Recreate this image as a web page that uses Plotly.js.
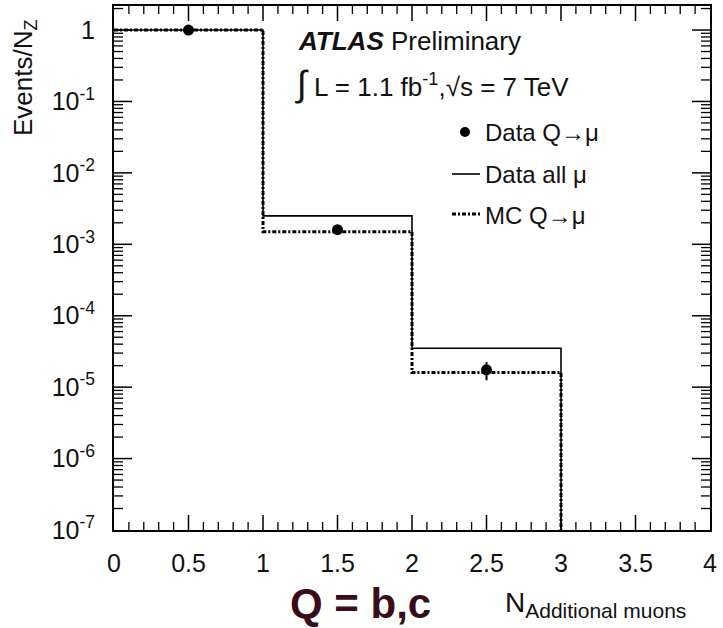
<!DOCTYPE html>
<html>
<head>
<meta charset="utf-8">
<script src="https://cdn.plot.ly/plotly-3.0.1.min.js"></script>
<style>html,body{margin:0;padding:0;background:#fff;}</style>
</head>
<body>
<div id="chart" style="width:723px;height:628px;"></div>
<script>
// ---- data ----
var binEdges = [0, 1, 2, 3, 4];
var binCenters = [0.5, 1.5, 2.5];
var dataQmu = [1.0, 1.6e-3, 1.75e-5];
var dataQmuErr = [0.01, 0.12e-3, 0.5e-5];
var dataAllMu = [1.0, 2.5e-3, 3.5e-5, 0];
var mcQmu = [1.0, 1.5e-3, 1.6e-5, 0];
var yTickVals = [1e-7, 1e-6, 1e-5, 1e-4, 1e-3, 1e-2, 1e-1, 1];
var yTickText = ["10<sup>-7</sup>", "10<sup>-6</sup>", "10<sup>-5</sup>", "10<sup>-4</sup>",
                 "10<sup>-3</sup>", "10<sup>-2</sup>", "10<sup>-1</sup>", "1"];
var xTickVals = [0, 0.5, 1, 1.5, 2, 2.5, 3, 3.5, 4];
var xTickText = ["0", "0.5", "1", "1.5", "2", "2.5", "3", "3.5", "4"];

var X_RANGE = [0, 4];
var Y_LOG_RANGE = [-7, Math.log10(2.17)];

// minor tick positions (axis decoration)
var xMinor = [];
for (var i = 1; i < 40; i++) { if (i % 5 !== 0) xMinor.push(i / 10); }
var yMinor = [];
for (var d = -7; d <= 0; d++) { for (var k = 2; k <= 9; k++) { var v = k * Math.pow(10, d); if (Math.log10(v) < Y_LOG_RANGE[1]) yMinor.push(v); } }

var FLOOR = 1e-12; // empty bins are drawn below the visible log range
function stepY(vals) {
  var v = vals.map(function (d) { return d > 0 ? d : FLOOR; });
  return v.concat([v[v.length - 1]]);
}

var FONT = "Liberation Sans, Arial, Helvetica, sans-serif";

var traces = [
  {
    x: binEdges, y: stepY(dataAllMu), type: "scatter", mode: "lines",
    line: {shape: "hv", color: "#000", width: 1.6}, hoverinfo: "skip", showlegend: false
  },
  {
    x: binEdges, y: stepY(mcQmu), type: "scatter", mode: "lines",
    line: {shape: "hv", color: "#000", width: 3, dash: "4px,2px,2px,2px"}, hoverinfo: "skip", showlegend: false
  },
  {
    x: binCenters, y: dataQmu, type: "scatter", mode: "markers",
    marker: {color: "#000", size: 11},
    error_y: {type: "data", array: dataQmuErr, color: "#000", thickness: 2, width: 0},
    showlegend: false
  }
];

var L = 114, R = 710, T = 6, B = 530;
var PW = R - L, PH = B - T;
function px(x) { return (x - L) / PW; }
function py(y) { return (B - y) / PH; }

var txt = "#111";
var annotations = [
  {text: "Events/N<sub>Z</sub>", x: px(24), y: py(78), xref: "paper", yref: "paper",
   textangle: -90, showarrow: false, xanchor: "center", yanchor: "middle",
   font: {family: FONT, size: 26, color: txt}},
  {text: "<b>Q = b,c</b>", x: px(360), y: py(603), xref: "paper", yref: "paper",
   showarrow: false, xanchor: "center", yanchor: "middle",
   font: {family: FONT, size: 42, color: "#3a0c18"}},
  {text: "N<sub><span style='font-size:21px'>Additional muons</span></sub>", x: px(503), y: py(604), xref: "paper", yref: "paper",
   showarrow: false, xanchor: "left", yanchor: "middle",
   font: {family: FONT, size: 28, color: txt}},
  {text: "<b><i>ATLAS</i></b> Preliminary", x: px(296), y: py(41), xref: "paper", yref: "paper",
   showarrow: false, xanchor: "left", yanchor: "middle",
   font: {family: FONT, size: 26, color: txt}},
  {text: "<span style='font-size:36px'>∫</span> L = 1.1 fb<sup>-1</sup>,√s = 7 TeV", x: px(293), y: py(84), xref: "paper", yref: "paper",
   showarrow: false, xanchor: "left", yanchor: "middle",
   font: {family: FONT, size: 26, color: txt}},
  {text: "Data Q→μ", x: px(483), y: py(132), xref: "paper", yref: "paper",
   showarrow: false, xanchor: "left", yanchor: "middle",
   font: {family: FONT, size: 24, color: txt}},
  {text: "Data all μ", x: px(483), y: py(175), xref: "paper", yref: "paper",
   showarrow: false, xanchor: "left", yanchor: "middle",
   font: {family: FONT, size: 24, color: txt}},
  {text: "MC Q→μ", x: px(483), y: py(216), xref: "paper", yref: "paper",
   showarrow: false, xanchor: "left", yanchor: "middle",
   font: {family: FONT, size: 24, color: txt}}
];

var shapes = [
  {type: "circle", xref: "paper", yref: "paper",
   x0: px(460), x1: px(470), y0: py(137), y1: py(127),
   fillcolor: "#000", line: {color: "#000", width: 0}},
  {type: "line", xref: "paper", yref: "paper", x0: px(452), x1: px(480), y0: py(174), y1: py(174),
   line: {color: "#000", width: 1.6}},
  {type: "line", xref: "paper", yref: "paper", x0: px(452), x1: px(480), y0: py(214), y1: py(214),
   line: {color: "#000", width: 3, dash: "4px,2px,2px,2px"}}
];

// inside tick marks on all four sides (frame decoration), in plot fractions
function xFrac(v) { return (v - X_RANGE[0]) / (X_RANGE[1] - X_RANGE[0]); }
function yFrac(v) { return (Math.log10(v) - Y_LOG_RANGE[0]) / (Y_LOG_RANGE[1] - Y_LOG_RANGE[0]); }
function addXTick(v, len, w) {
  var f = xFrac(v), h = len / PH;
  shapes.push({type: "line", xref: "paper", yref: "paper", x0: f, x1: f, y0: 0, y1: h,
    line: {color: "#000", width: w}});
  shapes.push({type: "line", xref: "paper", yref: "paper", x0: f, x1: f, y0: 1 - h, y1: 1,
    line: {color: "#000", width: w}});
}
function addYTick(v, len, w) {
  var f = yFrac(v), h = len / PW;
  shapes.push({type: "line", xref: "paper", yref: "paper", x0: 0, x1: h, y0: f, y1: f,
    line: {color: "#000", width: w}});
  shapes.push({type: "line", xref: "paper", yref: "paper", x0: 1 - h, x1: 1, y0: f, y1: f,
    line: {color: "#000", width: w}});
}
xTickVals.forEach(function (v) { if (v > X_RANGE[0] && v < X_RANGE[1]) addXTick(v, 15, 1.5); });
xMinor.forEach(function (v) { addXTick(v, 8, 1.3); });
yTickVals.forEach(function (v) { if (v > 1e-7) addYTick(v, 18, 1.5); });
yMinor.forEach(function (v) { addYTick(v, 9, 1.3); });

var layout = {
  width: 723, height: 628,
  margin: {l: L, r: 723 - R, t: T, b: 628 - B},
  paper_bgcolor: "#fff", plot_bgcolor: "#fff",
  showlegend: false,
  font: {family: FONT, color: txt},
  xaxis: {
    range: X_RANGE, showgrid: false, zeroline: false,
    showline: true, linecolor: "#000", linewidth: 2, mirror: true,
    ticks: "", tickmode: "array", tickvals: xTickVals, ticktext: xTickText,
    ticklabelstandoff: 10,
    tickfont: {family: FONT, size: 25, color: txt}
  },
  yaxis: {
    type: "log", range: Y_LOG_RANGE, showgrid: false, zeroline: false,
    showline: true, linecolor: "#000", linewidth: 2, mirror: true,
    ticks: "", tickmode: "array", tickvals: yTickVals, ticktext: yTickText,
    ticklabelstandoff: 12,
    tickfont: {family: FONT, size: 25, color: txt}
  },
  annotations: annotations,
  shapes: shapes
};

Plotly.newPlot("chart", traces, layout, {displayModeBar: false, staticPlot: true});
</script>
</body>
</html>
